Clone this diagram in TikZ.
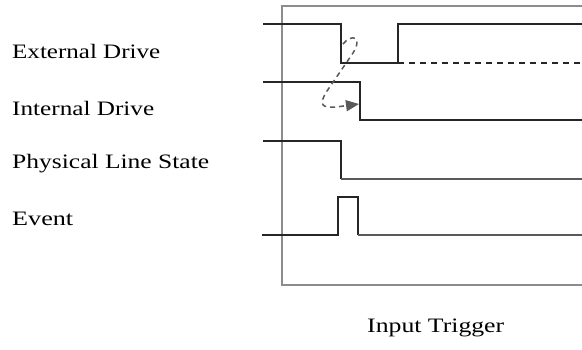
\documentclass[tikz,border=0pt]{standalone}
\usepackage{fontspec}
\setmainfont{Liberation Serif}
\usetikzlibrary{arrows.meta}
\tikzset{
  sig/.style={line width=1.8pt, draw=black!85},
  siglow/.style={line width=2pt, draw=black!65},
  frame/.style={line width=1.3pt, draw=black!45},
  lbl/.style={anchor=west, inner sep=0pt, font=\fontsize{20.5}{20.5}\selectfont},
  loopln/.style={dashed, dash pattern=on 5pt off 4pt, line width=1.5pt, draw=black!65},
}
\newcommand{\wlbl}[2]{\resizebox{#1}{\height}{#2}}
\begin{document}
\begin{tikzpicture}[x=1pt,y=-1pt]
\useasboundingbox (0,0) rectangle (582,349);
% frame
\draw[frame] (582,6) -- (282,6) -- (282,285) -- (582,285);
% labels
\node[lbl] (l1) at (12,51) {\wlbl{148pt}{External Drive}};
\node[lbl] (l2) at (12,108) {\wlbl{142pt}{Internal Drive}};
\node[lbl] (l3) at (12,164) {\wlbl{197pt}{Physical Line State}};
\node[lbl] (l4) at (12,219) {\wlbl{61pt}{Event}};
\node[lbl] (title) at (367,328) {\wlbl{137pt}{Input Trigger}};
% external drive
\draw[sig] (263,24) -- (341,24) -- (341,63) -- (398,63) -- (398,24) -- (582,24);
\draw[sig, dashed, dash pattern=on 6pt off 5pt] (398,63) -- (582,63);
% internal drive
\coordinate (idrop) at (359,104);
\draw[sig] (263,82) -- (360,82) -- (360,120) -- (582,120);
% physical line state
\draw[sig] (263,141) -- (341,141) -- (341,179);
\draw[siglow] (341,179) -- (582,179);
% event
\draw[sig] (262,235) -- (338,235) -- (338,197) -- (358,197) -- (358,235);
\draw[siglow] (358,235) -- (582,235);
% causal loop arrow
\coordinate (estart) at (343,44);
\draw[loopln, -{Triangle[length=13pt,width=11pt]}] (estart) .. controls (352,33) and (363,37) .. (353,53) -- (327,91) .. controls (318,105) and (322,108) .. (336,107) -- (idrop);
\end{tikzpicture}
\end{document}
